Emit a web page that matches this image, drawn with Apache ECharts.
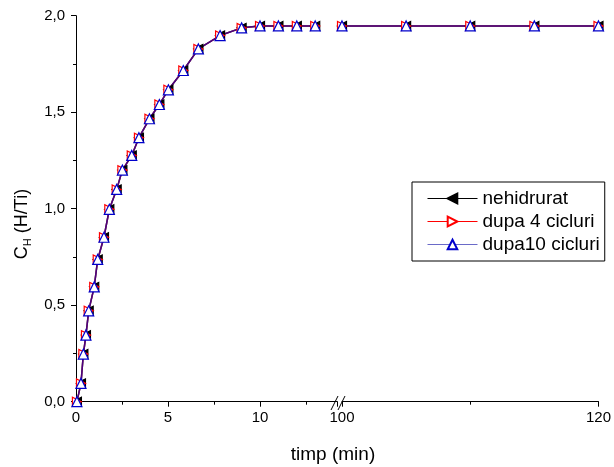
<!DOCTYPE html>
<html>
<head>
<meta charset="utf-8">
<script src="https://cdn.jsdelivr.net/npm/echarts@6/dist/echarts.min.js"></script>
<style>html,body{margin:0;padding:0;background:#fff}#c{width:614px;height:467px}</style>
</head>
<body>
<div id="c"></div>
<script>
// ---- data ----
var seriesNames = ['nehidrurat', 'dupa 4 cicluri', 'dupa10 cicluri'];
var timeLeft = [0.05, 0.27, 0.40, 0.54, 0.69, 0.99, 1.18, 1.52, 1.81, 2.21, 2.52, 3.03, 3.42, 3.99, 4.53, 5.02, 5.83, 6.65, 7.83, 9.0, 10, 11, 12, 13];
var cLeft = [0, 0.095, 0.247, 0.345, 0.471, 0.595, 0.737, 0.852, 0.997, 1.10, 1.20, 1.276, 1.368, 1.466, 1.54, 1.616, 1.716, 1.828, 1.897, 1.937, 1.947, 1.947, 1.947, 1.947];
var timeRight = [100, 105, 110, 115, 120];
var cRight = [1.947, 1.947, 1.947, 1.947, 1.947];
var yTicks = [0, 0.5, 1.0, 1.5, 2.0];

function pairs(xs, ys) { return xs.map(function (x, i) { return [x, ys[i]]; }); }

var styles = [
  { symbol: 'triangle', rotate: 90, size: 9, color: '#000', fill: '#000', line: '#000', lineOpacity: 1 },
  { symbol: 'triangle', rotate: -90, size: 9, color: '#ff0000', fill: '#fff', line: '#ff0000', lineOpacity: 0.6 },
  { symbol: 'triangle', rotate: 0, size: 10, color: '#0000cc', fill: '#fff', line: '#0000ff', lineOpacity: 0.5 }
];

var series = [];
[0, 1].forEach(function (g) {
  seriesNames.forEach(function (n, i) {
    var s = styles[i];
    series.push({
      name: n, type: 'line', xAxisIndex: g, yAxisIndex: g,
      data: g === 0 ? pairs(timeLeft, cLeft) : pairs(timeRight, cRight),
      symbol: s.symbol, symbolRotate: s.rotate, symbolSize: s.size,
      showAllSymbol: true, clip: false,
      itemStyle: { color: s.fill, borderColor: s.color, borderWidth: 1.2 },
      lineStyle: { color: s.line, width: 1.5, opacity: s.lineOpacity },
      emphasis: { disabled: true }, animation: false
    });
  });
});

var font = 'Liberation Sans, Arial, sans-serif';
var axisCommon = {
  axisLine: { show: true, lineStyle: { color: '#000', width: 1 } },
  axisTick: { show: true, length: 5, lineStyle: { color: '#000' } },
  minorTick: { show: true, splitNumber: 2, length: 3, lineStyle: { color: '#000' } },
  splitLine: { show: false },
  axisLabel: { color: '#000', fontFamily: font, fontSize: 15 }
};

function yFmt(v) { return yTicks.indexOf(v) >= 0 ? v.toFixed(1).replace('.', ',') : ''; }

var option = {
  animation: false,
  backgroundColor: '#fff',
  grid: [
    { left: 76, top: 15.7, width: 261.3, height: 386 },
    { left: 342, top: 15.7, width: 259, height: 386 }
  ],
  xAxis: [
    Object.assign({}, axisCommon, { type: 'value', gridIndex: 0, min: 0, max: 14.2, interval: 5,
      axisLabel: Object.assign({}, axisCommon.axisLabel, { margin: 9, showMaxLabel: false,
        formatter: function (v) { return v; } }) }),
    Object.assign({}, axisCommon, { type: 'value', gridIndex: 1, min: 100, max: 120, interval: 20,
      axisLabel: Object.assign({}, axisCommon.axisLabel, { margin: 9 }) })
  ],
  yAxis: [
    Object.assign({}, axisCommon, { type: 'value', gridIndex: 0, min: 0, max: 2, interval: 0.5,
      axisLabel: Object.assign({}, axisCommon.axisLabel, { margin: 11, formatter: yFmt }) }),
    { type: 'value', gridIndex: 1, min: 0, max: 2, show: false }
  ],
  legend: {
    left: 412, top: 182, orient: 'vertical',
    data: [
      { name: seriesNames[0], lineStyle: { color: '#000', opacity: 1, width: 1 } },
      { name: seriesNames[1], lineStyle: { color: '#ff0000', opacity: 1, width: 1 } },
      { name: seriesNames[2], lineStyle: { color: '#6a6ac8', opacity: 1, width: 1 } }
    ],
    itemWidth: 50, itemHeight: 12, itemGap: 4,
    padding: [7, 5, 7, 15],
    borderColor: '#000', borderWidth: 1,
    textStyle: { fontFamily: font, fontSize: 19, color: '#000' },
    selectedMode: false
  },
  graphic: [
    { type: 'line', shape: { x1: 331, y1: 410, x2: 338, y2: 396 }, style: { stroke: '#000', lineWidth: 1 } },
    { type: 'line', shape: { x1: 338, y1: 410, x2: 345, y2: 396 }, style: { stroke: '#000', lineWidth: 1 } },
    { type: 'text', x: 333, y: 455, style: { text: 'timp (min)', fontFamily: font, fontSize: 19, fill: '#000', textAlign: 'center', textVerticalAlign: 'middle' } },
    { type: 'text', x: 22, y: 224, rotation: Math.PI / 2,
      style: { text: '{a|C}{b|H}{a| (H/Ti)}', textAlign: 'center', textVerticalAlign: 'middle',
        rich: { a: { fontSize: 18, fontFamily: font, fill: '#000', lineHeight: 22, verticalAlign: 'middle' },
                b: { fontSize: 11, fontFamily: font, fill: '#000', lineHeight: 11, verticalAlign: 'bottom' } } } }
  ],
  series: series
};

var chart = echarts.init(document.getElementById('c'), null, { renderer: 'canvas' });
chart.setOption(option);
</script>
</body>
</html>
